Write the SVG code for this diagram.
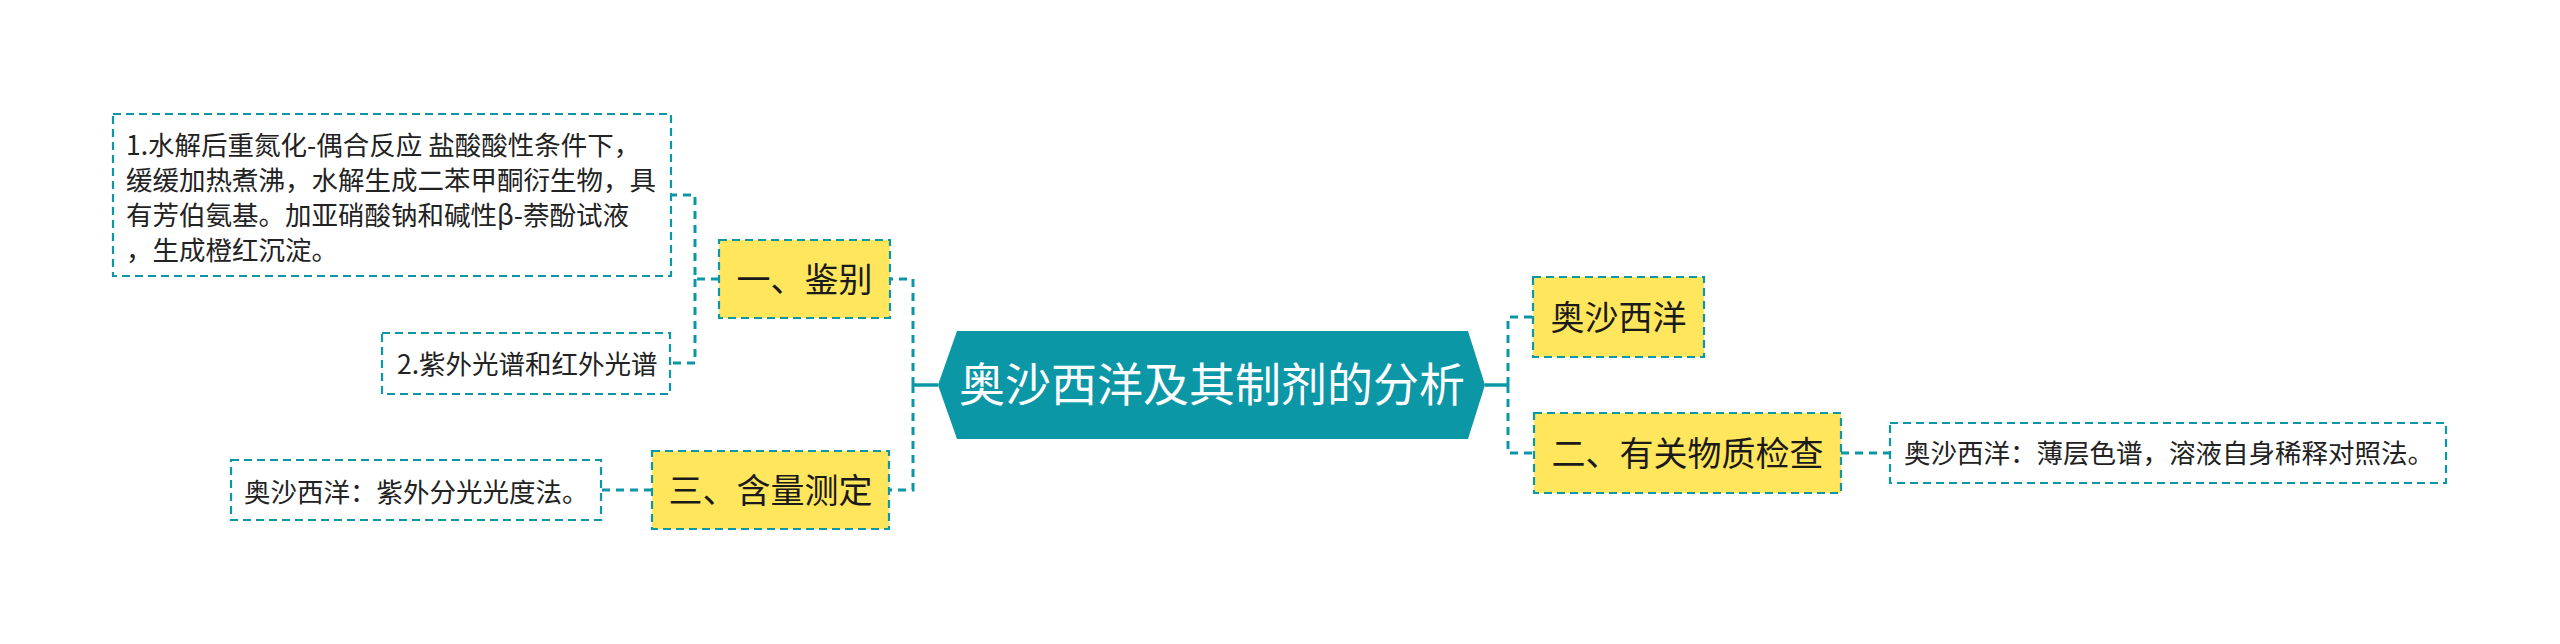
<svg xmlns="http://www.w3.org/2000/svg" width="2560" height="644" viewBox="0 0 2560 644">
<style>
.bg{fill:#ffffff}
.conn{fill:none;stroke:#0b97a6;stroke-width:3;stroke-dasharray:8 6}
.solid{fill:none;stroke:#0b97a6;stroke-width:3.5}
.main rect{fill:#ffe65c;stroke:#0b97a6;stroke-width:2.2;stroke-dasharray:8 5}
.leaf rect{fill:#ffffff;stroke:#0b97a6;stroke-width:2.2;stroke-dasharray:8 5}
.center polygon{fill:#0b97a6}
text{font-family:"Noto Sans CJK SC","Microsoft YaHei","Noto Sans",sans-serif}
.ct{font-size:46px;fill:#ffffff;text-anchor:middle}
.mt{font-size:34px;fill:#1a1a1a;text-anchor:middle}
.lt{font-size:26.5px;fill:#222222}
</style>
<rect class="bg" x="0" y="0" width="2560" height="644"/>
<g id="connectors">
  <path class="solid" d="M938 385 H913"/>
  <path class="conn" d="M913 385 V279 H890"/>
  <path class="conn" d="M913 385 V490 H889"/>
  <path class="solid" d="M1485 385 H1508"/>
  <path class="conn" d="M1508 385 V317 H1533"/>
  <path class="conn" d="M1508 385 V453 H1534"/>
  <path class="conn" d="M719 279 H695 V195 H671"/>
  <path class="conn" d="M695 279 V363 H670"/>
  <path class="conn" d="M652 490 H601"/>
  <path class="conn" d="M1841 453 H1890"/>
</g>
<g id="center" class="center">
  <polygon points="938,385 957,331 1468,331 1485,385 1468,439 957,439"/>
  <text class="ct" x="1212" y="401">奥沙西洋及其制剂的分析</text>
</g>
<g id="n-jianbie" class="main">
  <rect x="719" y="240" width="171" height="78"/>
  <text class="mt" x="804.5" y="292">一、鉴别</text>
</g>
<g id="n-hanliang" class="main">
  <rect x="652" y="451" width="237" height="78"/>
  <text class="mt" x="770.5" y="503">三、含量测定</text>
</g>
<g id="n-aoshaxiyang" class="main">
  <rect x="1533" y="277" width="171" height="80"/>
  <text class="mt" x="1618.5" y="330">奥沙西洋</text>
</g>
<g id="n-youguan" class="main">
  <rect x="1534" y="413" width="307" height="80"/>
  <text class="mt" x="1687.5" y="466">二、有关物质检查</text>
</g>
<g id="l-1" class="leaf">
  <rect x="113" y="114" width="558" height="162"/>
  <text class="lt" x="126" y="155">1.水解后重氮化-偶合反应 盐酸酸性条件下，</text>
  <text class="lt" x="126" y="190">缓缓加热煮沸，水解生成二苯甲酮衍生物，具</text>
  <text class="lt" x="126" y="225">有芳伯氨基。加亚硝酸钠和碱性β-萘酚试液</text>
  <text class="lt" x="126" y="260">，生成橙红沉淀。</text>
</g>
<g id="l-2" class="leaf">
  <rect x="382" y="333" width="288" height="61"/>
  <text class="lt" x="397" y="373.5">2.紫外光谱和红外光谱</text>
</g>
<g id="l-3" class="leaf">
  <rect x="231" y="460" width="370" height="60"/>
  <text class="lt" x="244" y="502">奥沙西洋：紫外分光光度法。</text>
</g>
<g id="l-4" class="leaf">
  <rect x="1890" y="423" width="556" height="60"/>
  <text class="lt" x="1904" y="463">奥沙西洋：薄层色谱，溶液自身稀释对照法。</text>
</g>
</svg>
